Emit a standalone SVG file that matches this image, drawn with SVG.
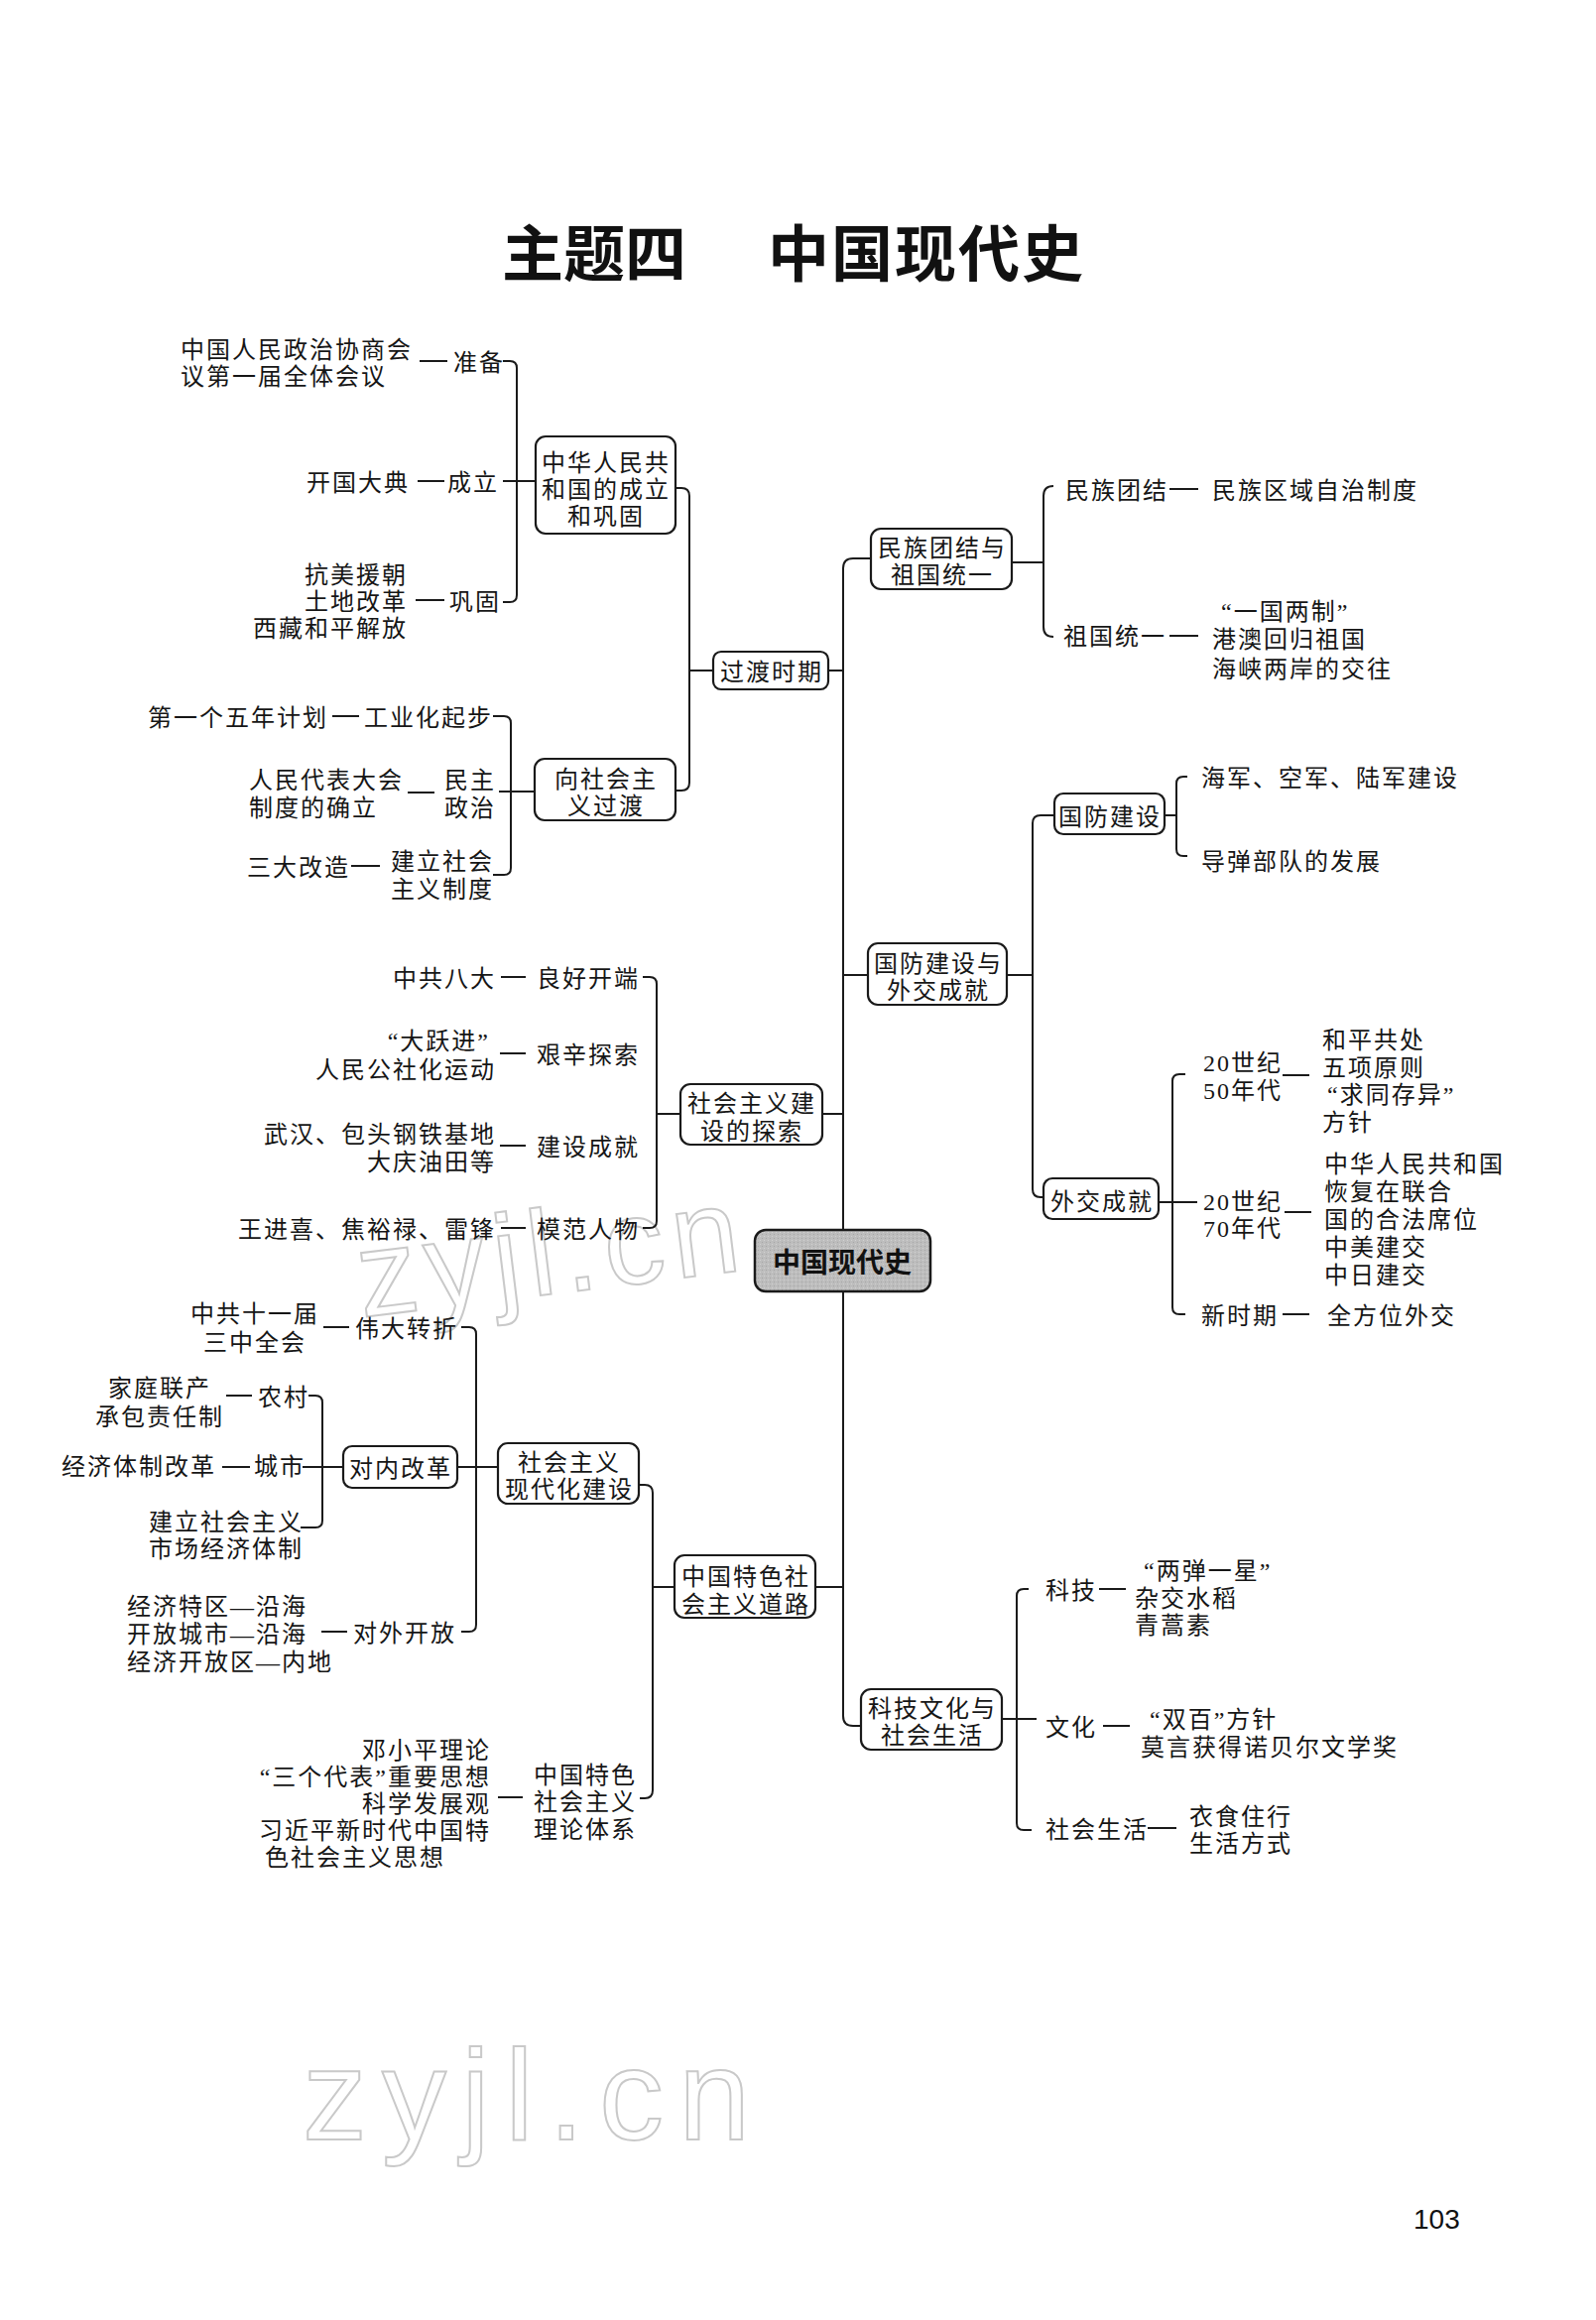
<svg xmlns="http://www.w3.org/2000/svg" width="1609" height="2339" viewBox="0 0 1609 2339">
<style>
.t{font-family:"Liberation Serif","Noto Sans CJK SC","Noto Sans CJK JP",serif;font-size:24px;letter-spacing:2px;fill:#161616}
.e{text-anchor:end}
.m{text-anchor:middle}
.box{fill:#fff;stroke:#1a1a1a;stroke-width:2.2}
.ln{fill:none;stroke:#1a1a1a;stroke-width:2}
.ttl{font-family:"Noto Sans CJK SC",sans-serif;font-size:62px;font-weight:700;fill:#111}
.wm{font-family:"Liberation Sans",sans-serif;fill:none;stroke:#c9c9c9;stroke-width:2}
</style>
<defs>
<pattern id="grain" width="4" height="4" patternUnits="userSpaceOnUse">
<rect width="4" height="4" fill="#bdbdbd"/>
<rect width="1" height="1" fill="#a6a6a6"/>
<rect x="2" y="2" width="1" height="1" fill="#d2d2d2"/>
</pattern>
</defs>
<rect width="1609" height="2339" fill="#fff"/>

<!-- watermarks -->
<text class="wm" x="365" y="1328" font-size="122" letter-spacing="8" transform="rotate(-7 365 1328)">zyjl.cn</text>
<text class="wm" x="305" y="2157" font-size="130" letter-spacing="15">zyjl.cn</text>

<!-- title -->
<text class="ttl" x="506" y="279">主题四</text>
<text class="ttl" x="774" y="279" letter-spacing="2">中国现代史</text>

<!-- connectors -->
<g id="connectors" class="ln">
<path d="M878 563 H860 Q850 563 850 573 V1730 Q850 1740 860 1740 H868"/>
<line x1="835" y1="676" x2="850" y2="676"/>
<line x1="850" y1="983" x2="875" y2="983"/>
<line x1="829" y1="1123" x2="850" y2="1123"/>
<line x1="822" y1="1600" x2="850" y2="1600"/>
<path d="M681 492 H687 Q695 492 695 500 V789 Q695 797 687 797 H681"/>
<line x1="695" y1="676" x2="719" y2="676"/>
<path d="M507 364 H514 Q521 364 521 371 V600 Q521 607 514 607 H507"/>
<line x1="507" y1="485" x2="540" y2="485"/>
<path d="M497 722 H508 Q515 722 515 729 V875 Q515 882 508 882 H497"/>
<line x1="503" y1="798" x2="539" y2="798"/>
<path d="M1062 490 Q1052 490 1052 500 V632 Q1052 642 1062 642"/>
<line x1="1020" y1="567" x2="1052" y2="567"/>
<path d="M1063 822 H1049 Q1041 822 1041 830 V1199 Q1041 1207 1049 1207 H1052"/>
<line x1="1015" y1="983" x2="1041" y2="983"/>
<path d="M1197 783 H1193 Q1186 783 1186 790 V856 Q1186 863 1193 863 H1197"/>
<line x1="1174" y1="822" x2="1186" y2="822"/>
<path d="M1195 1083 H1189 Q1182 1083 1182 1090 V1318 Q1182 1325 1189 1325 H1195"/>
<line x1="1168" y1="1212" x2="1207" y2="1212"/>
<path d="M648 985 H655 Q662 985 662 992 V1231 Q662 1238 655 1238 H648"/>
<line x1="662" y1="1123" x2="686" y2="1123"/>
<path d="M644 1497 H650 Q658 1497 658 1505 V1805 Q658 1813 650 1813 H645"/>
<line x1="658" y1="1600" x2="680" y2="1600"/>
<path d="M465 1338 H473 Q480 1338 480 1345 V1638 Q480 1645 473 1645 H465"/>
<line x1="461" y1="1479" x2="502" y2="1479"/>
<path d="M311 1407 H318 Q325 1407 325 1414 V1533 Q325 1540 318 1540 H303"/>
<line x1="305" y1="1479" x2="346" y2="1479"/>
<path d="M1037 1602 H1032 Q1025 1602 1025 1609 V1838 Q1025 1845 1032 1845 H1040"/>
<line x1="1010" y1="1733" x2="1045" y2="1733"/>
<line x1="423" y1="364" x2="451" y2="364"/>
<line x1="421" y1="485" x2="448" y2="485"/>
<line x1="419" y1="605" x2="448" y2="605"/>
<line x1="335" y1="722" x2="362" y2="722"/>
<line x1="411" y1="799" x2="438" y2="799"/>
<line x1="354" y1="873" x2="383" y2="873"/>
<line x1="505" y1="985" x2="530" y2="985"/>
<line x1="504" y1="1062" x2="530" y2="1062"/>
<line x1="504" y1="1155" x2="530" y2="1155"/>
<line x1="505" y1="1238" x2="530" y2="1238"/>
<line x1="326" y1="1338" x2="352" y2="1338"/>
<line x1="228" y1="1407" x2="254" y2="1407"/>
<line x1="224" y1="1479" x2="252" y2="1479"/>
<line x1="324" y1="1645" x2="350" y2="1645"/>
<line x1="502" y1="1812" x2="527" y2="1812"/>
<line x1="1179" y1="493" x2="1208" y2="493"/>
<line x1="1179" y1="641" x2="1208" y2="641"/>
<line x1="1293" y1="1084" x2="1320" y2="1084"/>
<line x1="1295" y1="1222" x2="1322" y2="1222"/>
<line x1="1293" y1="1325" x2="1320" y2="1325"/>
<line x1="1108" y1="1602" x2="1135" y2="1602"/>
<line x1="1112" y1="1740" x2="1139" y2="1740"/>
<line x1="1157" y1="1843" x2="1186" y2="1843"/>
</g>

<g id="n-root">
<rect x="761" y="1240" width="177" height="62" rx="11" fill="url(#grain)" stroke="#1a1a1a" stroke-width="2.5"/>
<text x="849" y="1283" text-anchor="middle" style="font-family:'Noto Sans CJK SC',sans-serif;font-size:28px;font-weight:700;fill:#111">中国现代史</text>
</g>

<g id="n-guodu">
<rect class="box" x="719" y="657" width="116" height="38" rx="8"/>
<text x="778" y="686" class="t m">过渡时期</text>
</g>
<g id="n-chengli">
<rect class="box" x="540" y="440" width="141" height="98" rx="10"/>
<text x="611" y="475" class="t m">中华人民共</text>
<text x="611" y="502" class="t m">和国的成立</text>
<text x="611" y="529" class="t m">和巩固</text>
</g>
<g id="l-zhunbei">
<text x="182" y="361" class="t">中国人民政治协商会</text>
<text x="182" y="388" class="t">议第一届全体会议</text>
<text x="457" y="374" class="t">准备</text>
</g>
<g id="l-chengli">
<text x="413" y="495" class="t e">开国大典</text>
<text x="451" y="495" class="t">成立</text>
</g>
<g id="l-gonggu">
<text x="411" y="588" class="t e">抗美援朝</text>
<text x="411" y="615" class="t e">土地改革</text>
<text x="411" y="642" class="t e">西藏和平解放</text>
<text x="453" y="615" class="t">巩固</text>
</g>
<g id="n-guodu2">
<rect class="box" x="539" y="765" width="142" height="62" rx="10"/>
<text x="611" y="794" class="t m">向社会主</text>
<text x="611" y="821" class="t m">义过渡</text>
</g>
<g id="l-gongyehua">
<text x="149" y="732" class="t">第一个五年计划</text>
<text x="367" y="732" class="t">工业化起步</text>
</g>
<g id="l-minzhu">
<text x="251" y="795" class="t">人民代表大会</text>
<text x="251" y="823" class="t">制度的确立</text>
<text x="448" y="795" class="t">民主</text>
<text x="448" y="823" class="t">政治</text>
</g>
<g id="l-sanda">
<text x="249" y="883" class="t">三大改造</text>
<text x="394" y="877" class="t">建立社会</text>
<text x="394" y="905" class="t">主义制度</text>
</g>

<g id="n-minzu">
<rect class="box" x="878" y="533" width="142" height="61" rx="10"/>
<text x="950" y="561" class="t m">民族团结与</text>
<text x="950" y="588" class="t m">祖国统一</text>
</g>
<g id="l-minzu">
<text x="1074" y="503" class="t">民族团结</text>
<text x="1222" y="503" class="t">民族区域自治制度</text>
</g>
<g id="l-tongyi">
<text x="1072" y="650" class="t">祖国统一</text>
<text x="1231" y="625" class="t">“一国两制”</text>
<text x="1222" y="653" class="t">港澳回归祖国</text>
<text x="1222" y="683" class="t">海峡两岸的交往</text>
</g>
<g id="n-guofangwaijiao">
<rect class="box" x="875" y="951" width="140" height="62" rx="10"/>
<text x="946" y="980" class="t m">国防建设与</text>
<text x="946" y="1007" class="t m">外交成就</text>
</g>
<g id="n-guofang">
<rect class="box" x="1063" y="800" width="111" height="41" rx="9"/>
<text x="1119" y="832" class="t m">国防建设</text>
</g>
<g id="l-guofang">
<text x="1211" y="793" class="t">海军、空军、陆军建设</text>
<text x="1211" y="877" class="t">导弹部队的发展</text>
</g>
<g id="n-waijiao">
<rect class="box" x="1052" y="1188" width="116" height="41" rx="9"/>
<text x="1111" y="1220" class="t m">外交成就</text>
</g>
<g id="l-50">
<text x="1213" y="1080" class="t">20世纪</text>
<text x="1213" y="1108" class="t">50年代</text>
<text x="1333" y="1057" class="t">和平共处</text>
<text x="1333" y="1085" class="t">五项原则</text>
<text x="1338" y="1112" class="t">“求同存异”</text>
<text x="1333" y="1140" class="t">方针</text>
</g>
<g id="l-70">
<text x="1213" y="1220" class="t">20世纪</text>
<text x="1213" y="1247" class="t">70年代</text>
<text x="1335" y="1182" class="t">中华人民共和国</text>
<text x="1335" y="1210" class="t">恢复在联合</text>
<text x="1335" y="1238" class="t">国的合法席位</text>
<text x="1335" y="1266" class="t">中美建交</text>
<text x="1335" y="1294" class="t">中日建交</text>
</g>
<g id="l-xinshiqi">
<text x="1211" y="1335" class="t">新时期</text>
<text x="1338" y="1335" class="t">全方位外交</text>
</g>

<g id="n-tansuo">
<rect class="box" x="686" y="1093" width="143" height="61" rx="10"/>
<text x="758" y="1121" class="t m">社会主义建</text>
<text x="758" y="1149" class="t m">设的探索</text>
</g>
<g id="l-bada">
<text x="500" y="995" class="t e">中共八大</text>
<text x="541" y="995" class="t">良好开端</text>
</g>
<g id="l-dayuejin">
<text x="494" y="1058" class="t e">“大跃进”</text>
<text x="500" y="1087" class="t e">人民公社化运动</text>
<text x="541" y="1072" class="t">艰辛探索</text>
</g>
<g id="l-jianshe">
<text x="500" y="1152" class="t e">武汉、包头钢铁基地</text>
<text x="500" y="1180" class="t e">大庆油田等</text>
<text x="541" y="1165" class="t">建设成就</text>
</g>
<g id="l-mofan">
<text x="500" y="1248" class="t e">王进喜、焦裕禄、雷锋</text>
<text x="541" y="1248" class="t">模范人物</text>
</g>

<g id="n-tese">
<rect class="box" x="680" y="1568" width="142" height="63" rx="10"/>
<text x="752" y="1598" class="t m">中国特色社</text>
<text x="752" y="1626" class="t m">会主义道路</text>
</g>
<g id="n-xiandaihua">
<rect class="box" x="502" y="1455" width="142" height="61" rx="10"/>
<text x="574" y="1483" class="t m">社会主义</text>
<text x="574" y="1510" class="t m">现代化建设</text>
</g>
<g id="n-duinei">
<rect class="box" x="346" y="1458" width="115" height="42" rx="9"/>
<text x="404" y="1489" class="t m">对内改革</text>
</g>
<g id="l-zhuanzhe">
<text x="257" y="1333" class="t m">中共十一届</text>
<text x="257" y="1362" class="t m">三中全会</text>
<text x="358" y="1348" class="t">伟大转折</text>
</g>
<g id="l-nongcun">
<text x="161" y="1408" class="t m">家庭联产</text>
<text x="161" y="1437" class="t m">承包责任制</text>
<text x="260" y="1417" class="t">农村</text>
</g>
<g id="l-chengshi">
<text x="62" y="1487" class="t">经济体制改革</text>
<text x="256" y="1487" class="t">城市</text>
</g>
<g id="l-shichang">
<text x="150" y="1543" class="t">建立社会主义</text>
<text x="150" y="1570" class="t">市场经济体制</text>
</g>
<g id="l-kaifang">
<text x="128" y="1628" class="t">经济特区—沿海</text>
<text x="128" y="1656" class="t">开放城市—沿海</text>
<text x="128" y="1684" class="t">经济开放区—内地</text>
<text x="356" y="1655" class="t">对外开放</text>
</g>
<g id="l-lilun">
<text x="495" y="1773" class="t e">邓小平理论</text>
<text x="495" y="1800" class="t e">“三个代表”重要思想</text>
<text x="495" y="1827" class="t e">科学发展观</text>
<text x="495" y="1854" class="t e">习近平新时代中国特</text>
<text x="267" y="1881" class="t">色社会主义思想</text>
<text x="538" y="1798" class="t">中国特色</text>
<text x="538" y="1825" class="t">社会主义</text>
<text x="538" y="1853" class="t">理论体系</text>
</g>

<g id="n-keji">
<rect class="box" x="868" y="1703" width="142" height="61" rx="10"/>
<text x="940" y="1731" class="t m">科技文化与</text>
<text x="940" y="1758" class="t m">社会生活</text>
</g>
<g id="l-keji">
<text x="1054" y="1612" class="t">科技</text>
<text x="1153" y="1592" class="t">“两弹一星”</text>
<text x="1144" y="1620" class="t">杂交水稻</text>
<text x="1144" y="1647" class="t">青蒿素</text>
</g>
<g id="l-wenhua">
<text x="1054" y="1750" class="t">文化</text>
<text x="1159" y="1742" class="t">“双百”方针</text>
<text x="1150" y="1770" class="t">莫言获得诺贝尔文学奖</text>
</g>
<g id="l-shenghuo">
<text x="1054" y="1853" class="t">社会生活</text>
<text x="1199" y="1840" class="t">衣食住行</text>
<text x="1199" y="1867" class="t">生活方式</text>
</g>

<text x="1425" y="2247" style="font-family:'Liberation Sans',Arial,sans-serif;font-size:28px;fill:#111">103</text>
</svg>
